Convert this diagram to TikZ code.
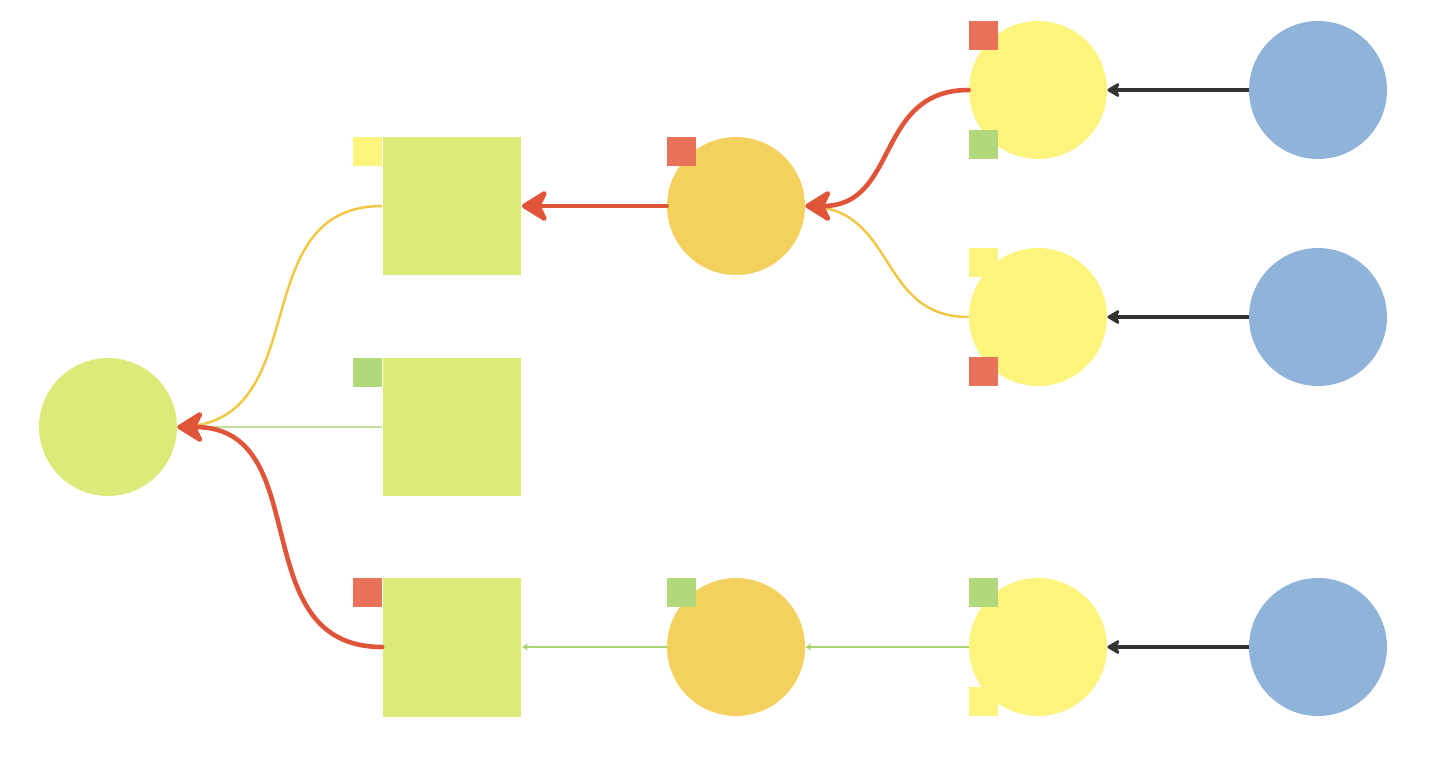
\documentclass[tikz,border=0pt]{standalone}
\usepackage{xcolor}
\usepackage{tikz}
\usetikzlibrary{positioning,arrows.meta,calc}
\definecolor{lime}{HTML}{DCEA7A}
\definecolor{sun}{HTML}{F4D15E}
\definecolor{lemon}{HTML}{FDF47D}
\definecolor{sky}{HTML}{8FB3D9}
\definecolor{tagred}{HTML}{E8735A}
\definecolor{taggreen}{HTML}{B1D87A}
\definecolor{linered}{HTML}{E0553A}
\definecolor{lineorange}{HTML}{F2C744}
\definecolor{linegreen}{HTML}{A8D572}
\definecolor{dark}{HTML}{333333}
\begin{document}
\begin{tikzpicture}[x=0.02cm, y=-0.02cm, >=Stealth,
  ball/.style={circle, minimum size=2.76cm, inner sep=0pt},
  block/.style={rectangle, fill=lime, minimum size=2.78cm, inner sep=0pt},
  tagbox/.style={rectangle, minimum size=0.58cm, inner sep=0pt},
  hot/.style={linered, line width=2.6pt, line cap=round, -{Stealth[round, length=17pt, width=21pt, inset=5pt]}},
  feed/.style={dark, line width=1.8pt, -{Stealth[round, length=8.5pt, width=10pt, inset=2.5pt]}},
  weak/.style={linegreen, line width=0.8pt, -{Stealth[length=3.5pt, width=4pt]}},
  warm/.style={lineorange, line width=1.4pt}]
\useasboundingbox (0,0) rectangle (1450,782);
% nodes
\node[ball, fill=lime] (root) at (108,427) {};
\foreach \i/\y in {1/206, 2/427, 3/647}{
  \node[block] (s\i) at (452,\y) {};
}
\node[ball, fill=sun] (o1) at (736,206) {};
\node[ball, fill=sun] (o2) at (736,647) {};
\foreach \i/\y in {1/90, 2/317, 3/647}{
  \node[ball, fill=lemon] (y\i) at (1038,\y) {};
  \node[ball, fill=sky] (b\i) at (1318,\y) {};
}
% tags
\foreach \n/\c in {s1/lemon, s2/taggreen, s3/tagred}{
  \node[tagbox, fill=\c, anchor=north east] (t\n) at (\n.north west) {};
}
\node[tagbox, fill=tagred, anchor=north west] (to1) at (o1.west |- o1.north) {};
\node[tagbox, fill=taggreen, anchor=north west] (to2) at (o2.west |- o2.north) {};
\foreach \n/\c/\d in {y1/tagred/taggreen, y2/lemon/tagred, y3/taggreen/lemon}{
  \node[tagbox, fill=\c, anchor=north west] (t\n a) at (\n.west |- \n.north) {};
  \node[tagbox, fill=\d, anchor=south west] (t\n b) at (\n.west |- \n.south) {};
}
% connectors
\foreach \i in {1,2,3}{
  \draw[feed] (b\i) -- (y\i);
}
\draw[warm] (y2.west) to[out=180, in=0, looseness=1.2] (o1.east);
\draw[hot] (y1.west) to[out=180, in=0, looseness=1.2] (o1.east);
\draw[hot] (o1) -- (s1);
\draw[warm] (s1.west) to[out=180, in=0, looseness=1.2] (root.east);
\draw[linegreen!70, line width=0.8pt] (s2) -- (root);
\draw[hot] (s3.west) to[out=180, in=0, looseness=1.2] (root.east);
\draw[weak] (y3) -- (o2);
\draw[weak] (o2) -- (s3);
\end{tikzpicture}
\end{document}
